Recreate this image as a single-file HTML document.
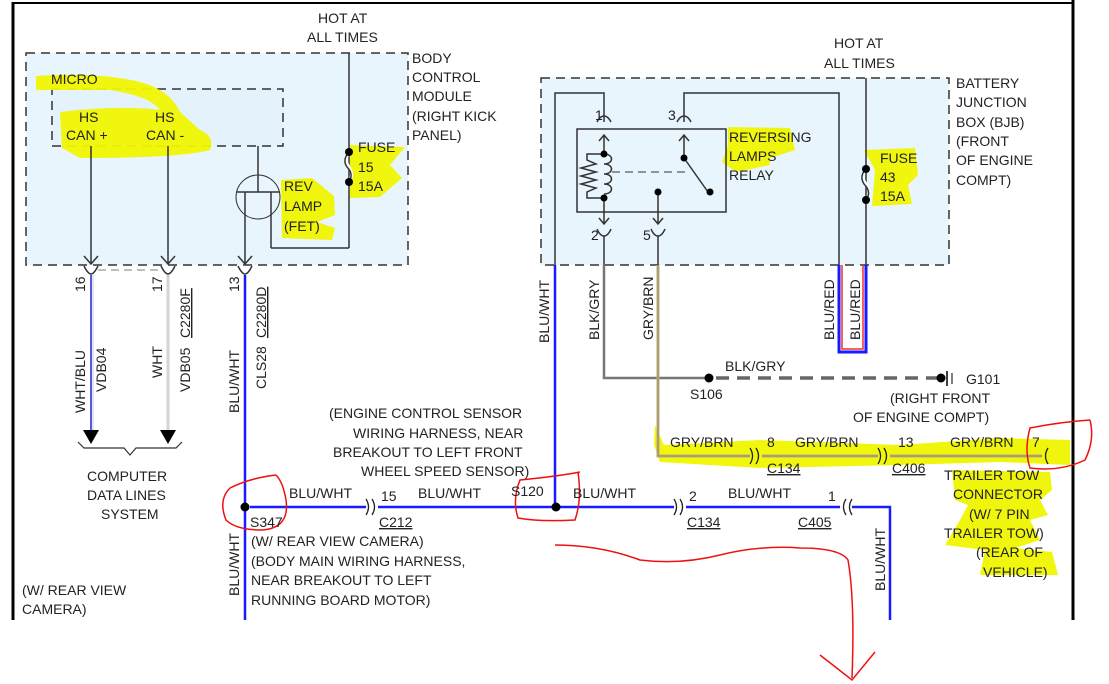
<!DOCTYPE html>
<html><head><meta charset="utf-8"><style>
html,body{margin:0;padding:0;background:#fff}
svg{display:block}
text{font-family:"Liberation Sans",sans-serif;font-size:14px;fill:#222}
.u{text-decoration:underline}
</style></head><body>
<svg width="1109" height="684" viewBox="0 0 1109 684" xmlns="http://www.w3.org/2000/svg">
<!-- frame -->
<line x1="13" y1="2" x2="13" y2="620" stroke="#000" stroke-width="3"/>
<line x1="13" y1="3" x2="1073" y2="3" stroke="#000" stroke-width="2"/>
<line x1="1073" y1="0" x2="1073" y2="620" stroke="#000" stroke-width="3"/>

<!-- BCM box -->
<rect x="26" y="53" width="382" height="212" fill="#e8f5fd" stroke="#333" stroke-width="1.5" stroke-dasharray="9,6"/>
<rect x="52" y="89" width="231" height="57" fill="#e3f2fb" stroke="#333" stroke-width="1.5" stroke-dasharray="9,6"/>
<!-- BJB box -->
<rect x="541" y="78" width="408" height="187" fill="#e8f5fd" stroke="#333" stroke-width="1.5" stroke-dasharray="9,6"/>

<!-- yellow highlights -->
<g fill="#f0f500" opacity="0.95">
<path d="M36 76 Q100 72 140 82 Q170 90 180 112 L200 130 Q215 136 210 150 Q180 158 80 158 L62 148 L60 112 Q120 105 160 110 Q150 96 110 90 L36 90Z"/>
<path d="M350 145 L405 147 L390 165 L402 178 L380 197 L350 198Z"/>
<path d="M281 180 L312 178 L334 196 L335 215 L317 222 L335 228 L332 240 L282 238Z"/>
<path d="M728 127 L790 128 L795 150 L770 158 L770 165 L736 172 L722 162 L728 146Z"/>
<path d="M864 150 L915 148 L918 175 L908 185 L912 204 L872 206 L875 170Z"/>
<path d="M655 425 L664 445 L760 440 L900 445 L1000 438 L1070 440 L1070 465 L1000 462 L900 465 L760 468 L660 462 L654 445Z"/>
<path d="M952 470 L1050 472 L1052 490 L1040 500 L1048 515 L1030 520 L1040 540 L1015 548 L1052 552 L1058 575 L980 575 L985 550 L945 545 L960 520 L968 505 L955 500Z"/>
</g>

<!-- BCM internals -->
<g stroke="#333" stroke-width="1.5" fill="none">
<line x1="349" y1="53" x2="349" y2="248"/>
<line x1="349" y1="248" x2="271" y2="248"/>
<line x1="271" y1="248" x2="271" y2="192"/>
<line x1="258" y1="146" x2="258" y2="192"/>
<line x1="237" y1="192" x2="280" y2="192"/>
<line x1="245" y1="192" x2="245" y2="264"/>
<circle cx="258" cy="197" r="22" stroke-width="1"/>
<line x1="91" y1="146" x2="91" y2="264"/>
<line x1="168" y1="146" x2="168" y2="264"/>
<path d="M84 256 L91 264 L98 256 M161 256 L168 264 L175 256 M238 256 L245 264 L252 256"/>
<path d="M84 266 Q88 274 91 274 Q94 274 98 266 M161 266 Q165 274 168 274 Q171 274 175 266 M238 266 Q242 274 245 274 Q248 274 252 266"/>
</g>
<path d="M349 152 Q344 160 349 167 Q354 174 349 182" stroke="#fff" stroke-width="3" fill="none"/>
<path d="M349 152 Q342 160 347 167 Q354 174 349 182" stroke="#333" stroke-width="1.5" fill="none"/>
<circle cx="349" cy="152" r="4" fill="#000"/><circle cx="349" cy="182" r="4" fill="#000"/>
<line x1="98" y1="270" x2="161" y2="270" stroke="#aaa" stroke-width="1.5" stroke-dasharray="8,5"/>

<!-- left wires -->
<line x1="91" y1="275" x2="91" y2="432" stroke="#2020e0" stroke-width="1.5"/>
<line x1="93" y1="275" x2="93" y2="432" stroke="#ccc" stroke-width="1"/>
<line x1="168" y1="275" x2="168" y2="432" stroke="#d4d4d4" stroke-width="3"/>
<path d="M83 430 L99 430 L91 444Z M160 430 L176 430 L168 444Z" fill="#000"/>
<path d="M78 442 L84 448 L124 448 L130 455 L136 448 L176 448 L182 442" stroke="#333" stroke-width="1.2" fill="none"/>
<line x1="245" y1="275" x2="245" y2="620" stroke="#1a1aff" stroke-width="2.5"/>

<!-- BJB internals -->
<g stroke="#333" stroke-width="1.5" fill="none">
<path d="M555 265 L555 93 L604 93 L604 122"/>
<path d="M684 122 L684 93 L839 93 L839 265"/>
<line x1="866" y1="78" x2="866" y2="265"/>
<rect x="577" y="129" width="149" height="83" stroke-width="1.5"/>
<path d="M597 122 Q600 116 604 116 Q608 116 611 122 M677 122 Q680 116 684 116 Q688 116 691 122"/>
<path d="M599 141 L604 135 L609 141 M604 135 L604 152 M679 141 L684 135 L689 141 M684 135 L684 158"/>
<path d="M604 154 C614 154 614 164 604 164 C614 164 614 174 604 174 C614 174 614 184 604 184 C614 184 614 194 604 194"/>
<path d="M604 154 L587 154 L587 160 L596 164 L581 168 L596 172 L581 176 L596 180 L581 184 L596 188 L587 192 L587 198 L604 198"/>
<line x1="612" y1="172" x2="690" y2="172" stroke-dasharray="8,5" stroke-width="1"/>
<line x1="684" y1="158" x2="708" y2="192"/>
<path d="M604 198 L604 224 M599 218 L604 224 L609 218 M658 192 L658 224 M653 218 L658 224 L663 218"/>
<path d="M597 229 Q600 236 604 236 Q608 236 611 229 M651 229 Q654 236 658 236 Q662 236 665 229"/>
<line x1="604" y1="236" x2="604" y2="265"/>
<line x1="658" y1="236" x2="658" y2="265"/>
</g>
<g fill="#000"><circle cx="604" cy="154" r="3.5"/><circle cx="604" cy="198" r="3.5"/><circle cx="684" cy="158" r="3.5"/><circle cx="710" cy="192" r="3.5"/><circle cx="658" cy="192" r="3.5"/></g>
<path d="M866 169 Q860 176 866 184 Q872 192 866 200" stroke="#fff" stroke-width="3" fill="none"/>
<path d="M866 169 Q859 176 864 184 Q872 192 866 200" stroke="#333" stroke-width="1.5" fill="none"/>
<circle cx="866" cy="169" r="4" fill="#000"/><circle cx="866" cy="200" r="4" fill="#000"/>

<!-- BJB wires -->
<line x1="555" y1="265" x2="555" y2="507" stroke="#1a1aff" stroke-width="2.5"/>
<path d="M604 265 L604 378 L709 378" stroke="#777" stroke-width="2.5" fill="none"/>
<line x1="716" y1="378" x2="938" y2="378" stroke="#666" stroke-width="3.5" stroke-dasharray="13,8"/>
<circle cx="709" cy="378" r="4.5" fill="#000"/>
<circle cx="941" cy="378" r="4.5" fill="#000"/>
<line x1="947" y1="371" x2="947" y2="386" stroke="#000" stroke-width="1.5"/>
<line x1="952" y1="373" x2="952" y2="384" stroke="#000" stroke-width="1"/>
<path d="M658 265 L658 456 L750 456 M762 456 L878 456 M890 456 L1042 456" stroke="#bcae80" stroke-width="3" fill="none"/>
<path d="M658 265 L658 456 L750 456 M762 456 L878 456 M890 456 L1042 456" stroke="#9a8f5a" stroke-width="1" fill="none"/>
<path d="M839 265 L839 352 L866 352 L866 265" stroke="#1a1aff" stroke-width="3" fill="none"/>
<path d="M842 265 L842 349 L863 349 L863 265" stroke="#f03030" stroke-width="1.5" fill="none"/>

<!-- bottom blue -->
<path d="M250 507 L366 507 M378 507 L674 507 M686 507 L840 507 M852 507 L890 507 L890 620" stroke="#1a1aff" stroke-width="2.5" fill="none"/>
<circle cx="245" cy="507" r="4.5" fill="#000"/><circle cx="556" cy="507" r="4.5" fill="#000"/>
<g stroke="#222" stroke-width="1.3" fill="none">
<path d="M366 499 Q371 507 366 515 M372 499 Q377 507 372 515"/>
<path d="M674 499 Q679 507 674 515 M680 499 Q685 507 680 515"/>
<path d="M846 499 Q841 507 846 515 M852 499 Q847 507 852 515"/>
<path d="M750 448 Q755 456 750 464 M756 448 Q761 456 756 464"/>
<path d="M878 448 Q883 456 878 464 M884 448 Q889 456 884 464"/>
<path d="M1048 448 Q1043 456 1048 464"/>
</g>

<!-- red annotations -->
<g stroke="#f01010" stroke-width="1.5" fill="none">
<path d="M276 475 Q250 478 230 488 Q218 500 226 520 Q236 530 262 530 Q290 528 286 500 Q283 482 276 475"/>
<path d="M580 472 Q560 476 520 480 Q512 500 518 518 Q540 522 575 520 Q582 500 578 472"/>
<path d="M1090 420 Q1060 422 1030 428 Q1024 450 1030 468 Q1060 472 1085 460 Q1095 440 1090 420"/>
<path d="M555 545 Q600 545 640 560 Q680 565 720 555 Q760 545 800 548 Q840 548 848 560 Q855 600 852 678"/>
<path d="M820 655 L852 680 L875 652"/>
</g>

<!-- texts -->
<text x="318" y="23">HOT AT</text><text x="307" y="42">ALL TIMES</text>
<text x="412" y="63">BODY</text><text x="412" y="82">CONTROL</text><text x="412" y="101">MODULE</text><text x="412" y="121">(RIGHT KICK</text><text x="412" y="140">PANEL)</text>
<text x="51" y="84">MICRO</text>
<text x="79" y="122">HS</text><text x="66" y="140">CAN +</text>
<text x="155" y="122">HS</text><text x="146" y="140">CAN -</text>
<text x="358" y="152">FUSE</text><text x="358" y="172">15</text><text x="358" y="191">15A</text>
<text x="284" y="191">REV</text><text x="284" y="211">LAMP</text><text x="284" y="231">(FET)</text>
<text x="834" y="48">HOT AT</text><text x="824" y="68">ALL TIMES</text>
<text x="956" y="88">BATTERY</text><text x="956" y="107">JUNCTION</text><text x="956" y="127">BOX (BJB)</text><text x="956" y="146">(FRONT</text><text x="956" y="165">OF ENGINE</text><text x="956" y="185">COMPT)</text>
<text x="729" y="142">REVERSING</text><text x="729" y="161">LAMPS</text><text x="729" y="180">RELAY</text>
<text x="880" y="163">FUSE</text><text x="880" y="182">43</text><text x="880" y="201">15A</text>
<text x="595" y="120">1</text><text x="668" y="120">3</text><text x="591" y="240">2</text><text x="643" y="240">5</text>

<g font-size="14">
<text transform="translate(85,292) rotate(-90)">16</text>
<text transform="translate(162,292) rotate(-90)">17</text>
<text transform="translate(239,292) rotate(-90)">13</text>
<text transform="translate(85,413) rotate(-90)">WHT/BLU</text>
<text transform="translate(106,392) rotate(-90)">VDB04</text>
<text transform="translate(162,378) rotate(-90)">WHT</text>
<text transform="translate(190,392) rotate(-90)">VDB05</text>
<text transform="translate(190,338) rotate(-90)" text-decoration="underline">C2280F</text>
<text transform="translate(239,413) rotate(-90)">BLU/WHT</text>
<text transform="translate(266,389) rotate(-90)">CLS28</text>
<text transform="translate(266,338) rotate(-90)" text-decoration="underline">C2280D</text>
<text transform="translate(549,343) rotate(-90)">BLU/WHT</text>
<text transform="translate(599,340) rotate(-90)">BLK/GRY</text>
<text transform="translate(653,340) rotate(-90)">GRY/BRN</text>
<text transform="translate(834,340) rotate(-90)">BLU/RED</text>
<text transform="translate(860,340) rotate(-90)">BLU/RED</text>
<text transform="translate(239,596) rotate(-90)">BLU/WHT</text>
<text transform="translate(885,591) rotate(-90)">BLU/WHT</text>
</g>

<text x="87" y="481">COMPUTER</text><text x="87" y="500">DATA LINES</text><text x="101" y="519">SYSTEM</text>
<text x="725" y="371">BLK/GRY</text>
<text x="690" y="399">S106</text>
<text x="966" y="384">G101</text>
<text x="890" y="403">(RIGHT FRONT</text><text x="853" y="422">OF ENGINE COMPT)</text>
<text x="329" y="418">(ENGINE CONTROL SENSOR</text>
<text x="353" y="438">WIRING HARNESS, NEAR</text>
<text x="333" y="457">BREAKOUT TO LEFT FRONT</text>
<text x="361" y="476">WHEEL SPEED SENSOR)</text>
<text x="670" y="447">GRY/BRN</text><text x="767" y="447">8</text>
<text x="795" y="447">GRY/BRN</text><text x="898" y="447">13</text>
<text x="950" y="447">GRY/BRN</text><text x="1032" y="447">7</text>
<text class="u" x="767" y="473" text-decoration="underline">C134</text>
<text x="892" y="473" text-decoration="underline">C406</text>
<text x="944" y="480">TRAILER TOW</text><text x="953" y="499">CONNECTOR</text><text x="969" y="519">(W/ 7 PIN</text><text x="944" y="538">TRAILER TOW)</text><text x="976" y="557">(REAR OF</text><text x="983" y="577">VEHICLE)</text>
<text x="289" y="498">BLU/WHT</text><text x="381" y="501">15</text><text x="418" y="498">BLU/WHT</text>
<text x="511" y="496">S120</text><text x="573" y="498">BLU/WHT</text>
<text x="689" y="501">2</text><text x="728" y="498">BLU/WHT</text><text x="828" y="501">1</text>
<text x="250" y="527">S347</text>
<text x="379" y="527" text-decoration="underline">C212</text>
<text x="687" y="527" text-decoration="underline">C134</text>
<text x="798" y="527" text-decoration="underline">C405</text>
<text x="251" y="546">(W/ REAR VIEW CAMERA)</text>
<text x="251" y="566">(BODY MAIN WIRING HARNESS,</text>
<text x="251" y="585">NEAR BREAKOUT TO LEFT</text>
<text x="251" y="605">RUNNING BOARD MOTOR)</text>
<text x="22" y="595">(W/ REAR VIEW</text><text x="22" y="614">CAMERA)</text>
</svg>
</body></html>
